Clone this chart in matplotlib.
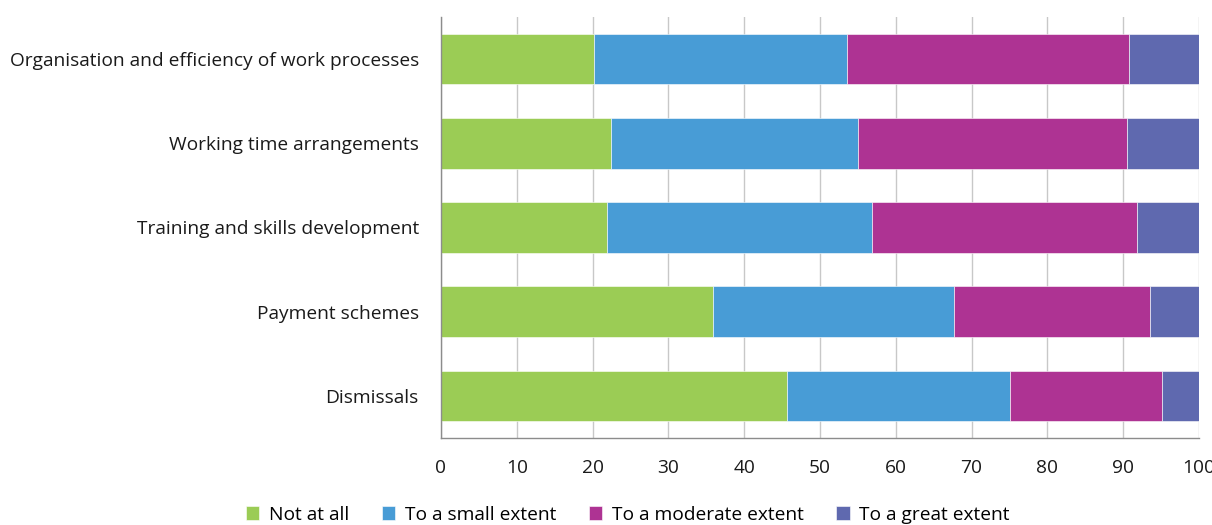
import numpy as np
import matplotlib
matplotlib.use("Agg")
import matplotlib.pyplot as plt

# Data
categories = [
    "Organisation and efficiency of work processes",
    "Working time arrangements",
    "Training and skills development",
    "Payment schemes",
    "Dismissals",
]
series_names = ["Not at all", "To a small extent", "To a moderate extent", "To a great extent"]
not_at_all = [20.2, 22.4, 21.9, 35.9, 45.7]
small_extent = [33.4, 32.6, 35.0, 31.8, 29.3]
moderate_extent = [37.1, 35.5, 34.9, 25.9, 20.1]
great_extent = [9.3, 9.5, 8.2, 6.4, 4.9]
x_ticks = [0, 10, 20, 30, 40, 50, 60, 70, 80, 90, 100]

colors = ["#9BCC55", "#489CD6", "#AE3393", "#5F69AF"]

plt.rcParams["font.family"] = ["Open Sans", "DejaVu Sans"]

fig = plt.figure(figsize=(12.12, 5.25), dpi=100)
ax = fig.add_axes([441 / 1212, 1 - 438 / 525, (1199 - 441) / 1212, (438 - 17) / 525])

y = np.arange(len(categories))
left = np.zeros(len(categories))
for name, vals, c in zip(series_names,
                         [not_at_all, small_extent, moderate_extent, great_extent],
                         colors):
    ax.barh(y, vals, left=left, height=0.6, color=c, label=name,
            edgecolor="white", linewidth=0.4, zorder=3)
    left += np.array(vals)

ax.set_ylim(len(categories) - 0.5, -0.5)
ax.set_xlim(0, 100)
ax.set_xticks(x_ticks)
ax.set_yticks(y)
ax.set_yticklabels(categories)

ax.grid(axis="x", color="#C8C8C8", linewidth=1, zorder=0)
ax.tick_params(axis="both", length=0, labelsize=13.8, colors="#1a1a1a")
ax.tick_params(axis="x", pad=15)
ax.tick_params(axis="y", pad=16)

for s in ["top", "right"]:
    ax.spines[s].set_visible(False)
for s in ["left", "bottom"]:
    ax.spines[s].set_color("#8C8C8C")
    ax.spines[s].set_linewidth(1)
    ax.spines[s].set_zorder(4)

fig.legend(loc="lower center", bbox_to_anchor=(0.518, -0.03), ncol=4,
           frameon=False, fontsize=13.8, handlelength=0.7, handleheight=0.7,
           columnspacing=1.7, handletextpad=0.5)

fig.savefig("out.png", dpi=100)
